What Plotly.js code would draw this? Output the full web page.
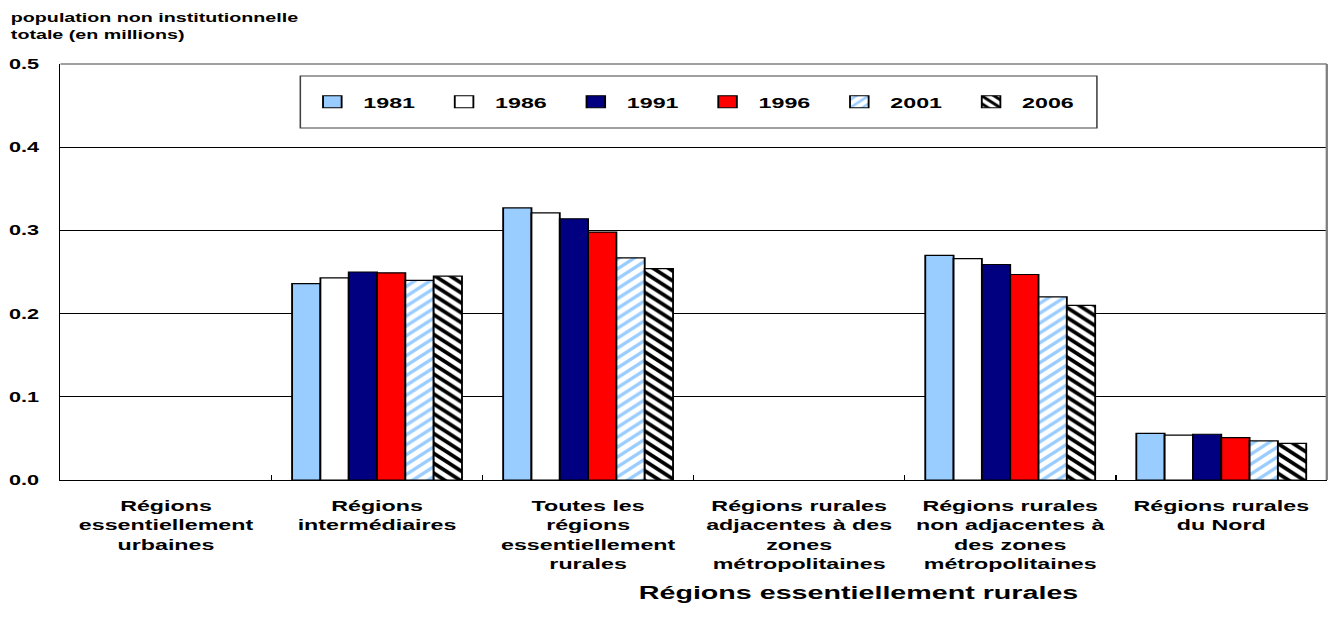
<!DOCTYPE html>
<html><head><meta charset="utf-8">
<script src="https://cdn.plot.ly/plotly-3.0.1.min.js"></script>
<style>
html,body{margin:0;padding:0;background:#fff;overflow:hidden}
#chart{width:860px;height:618px;transform:scaleX(1.55);transform-origin:0 0}
</style>
</head><body><div id="chart"></div>
<script>
// ---- data ----
const categories = [
  "Régions<br>essentiellement<br>urbaines",
  "Régions<br>intermédiaires",
  "Toutes les<br>régions<br>essentiellement<br>rurales",
  "Régions rurales<br>adjacentes à des<br>zones<br>métropolitaines",
  "Régions rurales<br>non adjacentes à<br>des zones<br>métropolitaines",
  "Régions rurales<br>du Nord"
];
const years = ["1981", "1986", "1991", "1996", "2001", "2006"];
const v1981 = [null, 0.236, 0.327, null, 0.270, 0.056];
const v1986 = [null, 0.243, 0.321, null, 0.266, 0.054];
const v1991 = [null, 0.250, 0.314, null, 0.259, 0.055];
const v1996 = [null, 0.249, 0.298, null, 0.247, 0.051];
const v2001 = [null, 0.240, 0.267, null, 0.220, 0.047];
const v2006 = [null, 0.245, 0.254, null, 0.210, 0.044];
const series = [v1981, v1986, v1991, v1996, v2001, v2006];
const yTicks = [0, 0.1, 0.2, 0.3, 0.4, 0.5];
const yTitle = "population non institutionnelle<br>totale (en millions)";
const xTitle = "Régions essentiellement rurales";

// ---- styles ----
const W = 860, H = 618, S = 1333 / 860;
const M = {l: 60 / S, r: 6 / S, t: 64, b: 138};
const FONT = 'Arial, "Liberation Sans", sans-serif';
const px2x = cx => (cx / S - M.l) / (W - M.l - M.r);
const px2y = cy => (H - M.b - cy) / (H - M.t - M.b);

const markers = [
  {color: "#99CCFF"},
  {color: "#FFFFFF"},
  {color: "#000080"},
  {color: "#FF0000"},
  {color: "#FFFFFF", pattern: {shape: "/", fgcolor: "#99CCFF", bgcolor: "#FFFFFF", size: 7, solidity: 0.4, fillmode: "replace"}},
  {color: "#FFFFFF", pattern: {shape: "\\", fgcolor: "#000000", bgcolor: "#FFFFFF", size: 7, solidity: 0.45, fillmode: "replace"}}
];

const traces = years.map((yr, i) => ({
  type: "bar",
  name: yr,
  x: categories,
  y: series[i],
  marker: Object.assign({line: {color: "#000000", width: 1.2}}, markers[i]),
  hoverinfo: "skip"
}));

const layout = {
  width: W, height: H,
  margin: M,
  paper_bgcolor: "#FFFFFF", plot_bgcolor: "#FFFFFF",
  font: {family: FONT, size: 15, color: "#000000", weight: "bold"},
  barmode: "group", bargap: 0.195, bargroupgap: 0,
  showlegend: true,
  legend: {
    orientation: "h", x: px2x(301), xanchor: "left", y: px2y(102), yanchor: "middle",
    bgcolor: "rgba(0,0,0,0)", borderwidth: 0,
    font: {family: FONT, size: 15, weight: "bold"},
    entrywidth: 40, entrywidthmode: "pixels", traceorder: "normal"
  },
  xaxis: {
    type: "category", showgrid: false, zeroline: false,
    showline: true, linecolor: "#000000", linewidth: 1,
    ticks: "inside", tickson: "boundaries", ticklen: 5, tickcolor: "#000000", tickwidth: 1,
    tickfont: {family: FONT, size: 15, weight: "bold"},
    ticklabelstandoff: 12, tickangle: 0, fixedrange: true
  },
  yaxis: {
    range: [0, 0.5], tickvals: yTicks, tickformat: ".1f",
    showgrid: true, gridcolor: "#000000", gridwidth: 1, zeroline: false,
    showline: true, linecolor: "#000000", linewidth: 1,
    ticks: "", ticklabelstandoff: 10,
    tickfont: {family: FONT, size: 14, weight: "bold"}, fixedrange: true
  },
  shapes: [
    {type: "rect", xref: "paper", yref: "paper", x0: px2x(300), x1: px2x(1097), y0: px2y(128), y1: px2y(76),
     line: {color: "#404040", width: 1}, fillcolor: "#FFFFFF", layer: "below"},
    {type: "line", xref: "paper", yref: "paper", x0: 0, x1: 1, y0: 1, y1: 1, line: {color: "#808080", width: 1.5}},
    {type: "line", xref: "paper", yref: "paper", x0: 1, x1: 1, y0: 0, y1: 1, line: {color: "#808080", width: 1.5}}
  ],
  annotations: [
    {text: yTitle, xref: "paper", yref: "paper", x: px2x(7), y: px2y(9), xanchor: "left", yanchor: "top",
     align: "left", showarrow: false, font: {family: FONT, size: 12.7, weight: "bold"}},
    {text: xTitle, xref: "paper", yref: "paper", x: px2x(858), y: px2y(592), xanchor: "center", yanchor: "middle",
     showarrow: false, font: {family: FONT, size: 18.5, weight: "bold"}}
  ]
};

Plotly.newPlot("chart", traces, layout, {displayModeBar: false, staticPlot: true});
</script>
</body></html>
